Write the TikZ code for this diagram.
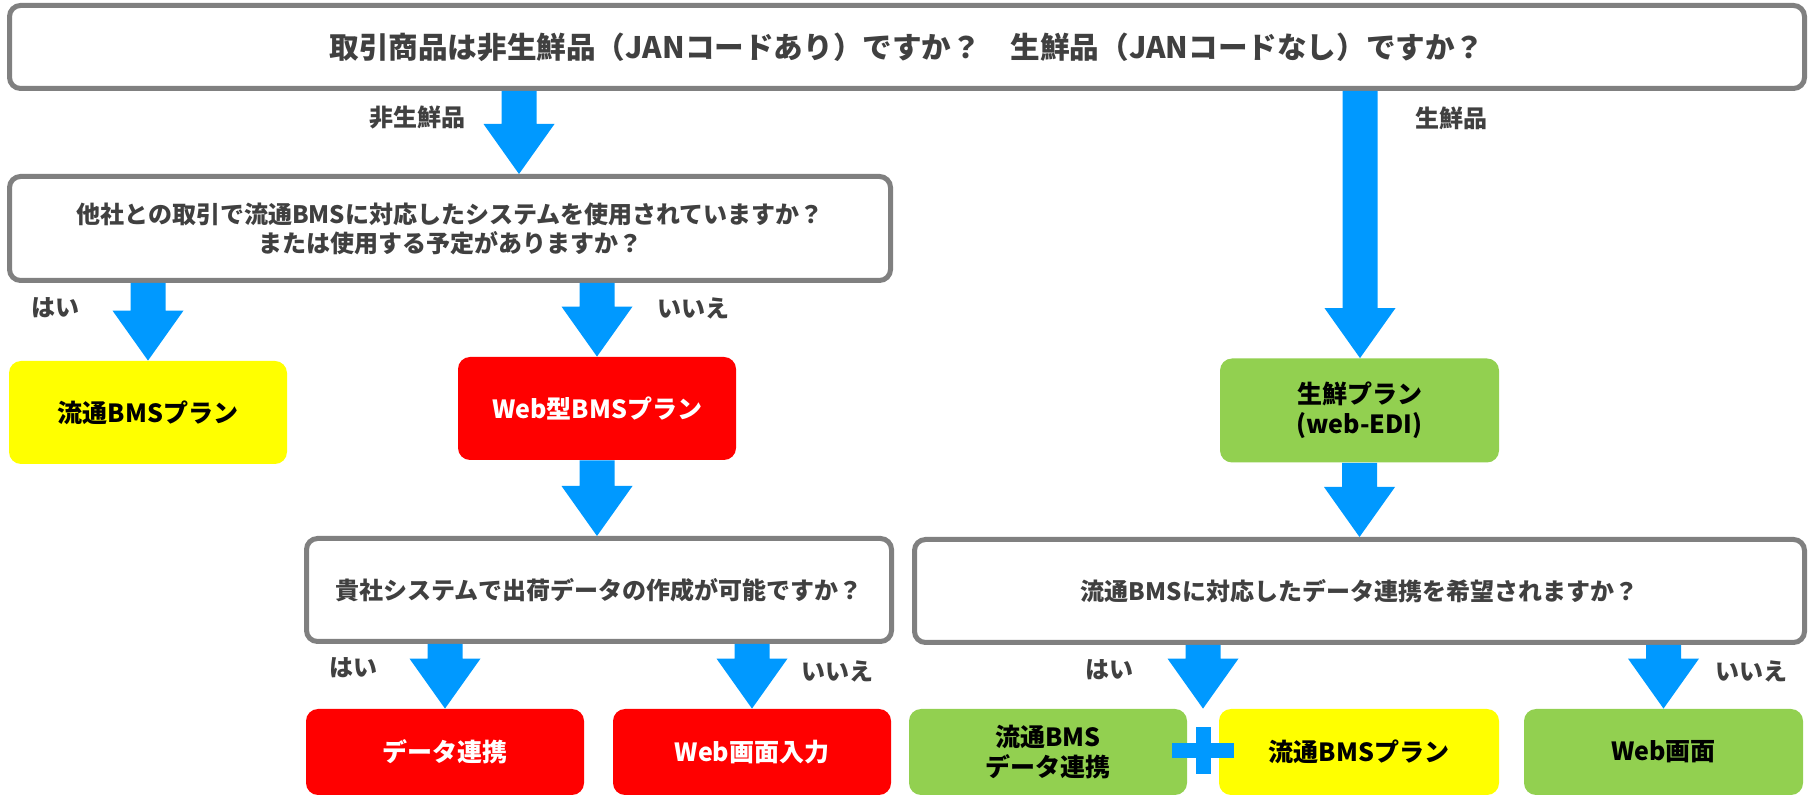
\documentclass[tikz,border=0pt]{standalone}
\usepackage{fontspec}
\setmainfont{Noto Sans CJK JP}
\usetikzlibrary{calc}
\definecolor{boxgray}{HTML}{808080}
\definecolor{arrowblue}{HTML}{0099FF}
\definecolor{planred}{HTML}{FF0000}
\definecolor{planyellow}{HTML}{FFFF00}
\definecolor{plangreen}{HTML}{92D050}
\definecolor{textgray}{HTML}{404040}
\newcommand\flowarrow[2]{%
  \fill[arrowblue] let \p1=(#1), \p2=(#2) in
    (\x1-8.75pt,\y1) -- (\x1+8.75pt,\y1) -- (\x1+8.75pt,\y2+25pt) --
    (\x1+17.75pt,\y2+25pt) -- (\x1,\y2) -- (\x1-17.75pt,\y2+25pt) --
    (\x1-8.75pt,\y2+25pt) -- cycle;}
\tikzset{
  qbox/.style={draw=boxgray, line width=2.5pt, rounded corners=5.5pt, fill=white,
    text=textgray, font=\bfseries\fontsize{12}{14.5}\selectfont, align=center, inner sep=0pt},
  plan/.style={rounded corners=6pt, font=\bfseries\fontsize{12.5}{15}\selectfont,
    align=center, inner sep=0pt, minimum width=139pt},
  redplan/.style={plan, fill=planred, text=white},
  yellowplan/.style={plan, fill=planyellow, text=black},
  greenplan/.style={plan, fill=plangreen, text=black},
  lbl/.style={text=textgray, font=\bfseries\fontsize{12}{14}\selectfont, inner sep=0pt}
}
\begin{document}
\begin{tikzpicture}[x=0.5pt,y=-0.5pt]
\useasboundingbox (0,0) rectangle (1811,801);
% question boxes
\node[qbox, minimum width=897.5pt, minimum height=41.5pt,
  font=\bfseries\fontsize{14.8}{17}\selectfont] (top) at (907,47)
  {取引商品は非生鮮品（JANコードあり）ですか？　生鮮品（JANコードなし）ですか？};
\node[qbox, minimum width=440.5pt, minimum height=52pt] (q1) at (450,228.5)
  {他社との取引で流通BMSに対応したシステムを使用されていますか？\\または使用する予定がありますか？};
\node[qbox, minimum width=292.5pt, minimum height=51.5pt] (q2) at (599,590)
  {貴社システムで出荷データの作成が可能ですか？};
\node[qbox, minimum width=445pt, minimum height=51.5pt] (q3) at (1359.5,591)
  {流通BMSに対応したデータ連携を希望されますか？};
% plan boxes
\node[yellowplan, minimum height=51.5pt] (yes1) at (148,412.5) {流通BMSプラン};
\node[redplan, minimum height=51.5pt] (web) at (597,408.5) {Web型BMSプラン};
\node[greenplan, minimum width=139.5pt, minimum height=52pt] (fresh) at (1359.5,410.5) {生鮮プラン\\(web-EDI)};
\node[redplan, minimum height=43pt] (data) at (445,752) {データ連携};
\node[redplan, minimum height=43pt] (webin) at (752,752) {Web画面入力};
\node[greenplan, minimum height=43pt] (bmsdata) at (1048,752) {流通BMS\\データ連携};
\node[yellowplan, minimum width=140pt, minimum height=43pt] (bms2) at (1359,752) {流通BMSプラン};
\node[greenplan, minimum width=139.5pt, minimum height=43pt] (webscr) at (1663.5,752) {Web画面};
% labels
\node[lbl] (lnon) at (417,118) {非生鮮品};
\node[lbl] (lfresh) at (1451,118) {生鮮品};
\node[lbl] (lyes1) at (56,308) {はい};
\node[lbl] (lno1) at (693,308) {いいえ};
\node[lbl] (lyes2) at (353,668) {はい};
\node[lbl] (lno2) at (837,671) {いいえ};
\node[lbl] (lyes3) at (1109,670) {はい};
\node[lbl] (lno3) at (1751,671) {いいえ};
% column coordinates
\coordinate (c1) at (519,0);
\coordinate (c2) at (1360,0);
\coordinate (plus) at (1203,750.5);
% arrows
\flowarrow{top.south -| c1}{q1.north -| c1}
\flowarrow{top.south -| c2}{fresh.north -| c2}
\flowarrow{q1.south -| yes1.north}{yes1.north}
\flowarrow{q1.south -| web.north}{web.north}
\flowarrow{web.south}{q2.north -| web.south}
\flowarrow{q2.south -| data.north}{data.north}
\flowarrow{q2.south -| webin.north}{webin.north}
\flowarrow{fresh.south}{q3.north -| fresh.south}
\flowarrow{q3.south -| plus}{bms2.north -| plus}
\flowarrow{q3.south -| webscr.north}{webscr.north}
% plus sign
\fill[arrowblue] ([shift={(-31.3,-7.5)}]plus) rectangle ([shift={(31.3,7.5)}]plus);
\fill[arrowblue] ([shift={(-7.5,-23.5)}]plus) rectangle ([shift={(7.5,23.5)}]plus);
\end{tikzpicture}
\end{document}
